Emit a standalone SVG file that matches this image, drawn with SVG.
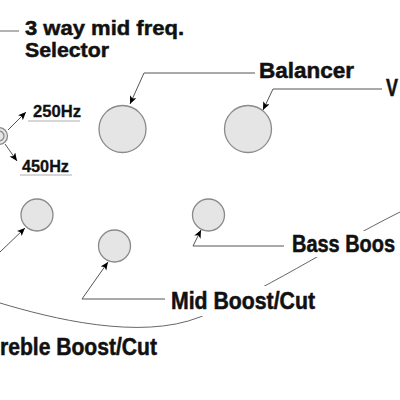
<svg xmlns="http://www.w3.org/2000/svg" width="400" height="400" viewBox="0 0 400 400">
<style>
.knob{fill:#e5e5e5;stroke:#8a8a8a;stroke-width:1.3}
.lbl{font-family:"Liberation Sans",Arial,sans-serif;font-weight:bold;fill:#111}
.big{font-size:23px;stroke:#111;stroke-width:0.5}
.sm{font-size:17px;stroke:#111;stroke-width:0.3}
.ln{fill:none;stroke:#666;stroke-width:1}
.ar{fill:none;stroke:#555;stroke-width:1;marker-end:url(#ah)}
.ul{stroke:#999;stroke-width:0.8}
</style>
<defs>
<marker id="ah" markerUnits="userSpaceOnUse" markerWidth="10" markerHeight="8" refX="8" refY="3.5" orient="auto">
<path d="M0,0 L8,3.5 L0,7 L2,3.5 Z" fill="#000"/>
</marker>
<mask id="gap">
<rect x="0" y="0" width="400" height="400" fill="#fff"/>
<rect x="166" y="286" width="154" height="30" fill="#000"/>
<rect x="287" y="231" width="113" height="26" fill="#000"/>
</mask>
</defs>
<rect width="400" height="400" fill="#fff"/>
<g id="connectors">
<line class="ln" x1="0" y1="31" x2="19" y2="31"/>
<path class="ar" d="M255,73 L144,73 L130,104"/>
<path class="ar" d="M382,89 L273,89 L263,110"/>
<path class="ar" d="M8,130 L26,112"/>
<path class="ar" d="M5,144 L17,161"/>
<path class="ar" d="M0,252 L25,228"/>
<path class="ar" d="M165,299 L82,299 L108,262"/>
<path class="ar" d="M284,246 L193,246 L201,230"/>
<path class="ln" mask="url(#gap)" d="M0,303 C50,318 140,341 200,317 S330,247 400,212"/>
<line class="ul" x1="28" y1="121" x2="80" y2="121"/>
<line class="ul" x1="20" y1="175" x2="72" y2="175"/>
</g>
<g id="selector">
<circle class="knob" cx="-1" cy="136" r="8.5"/>
<circle class="knob" cx="-1" cy="136" r="5"/>
</g>
<g id="balancer-knob"><circle class="knob" cx="122.5" cy="129" r="23.5"/></g>
<g id="volume-knob"><circle class="knob" cx="248" cy="129" r="23.5"/></g>
<g id="treble-knob"><circle class="knob" cx="37" cy="215" r="16"/></g>
<g id="mid-knob"><circle class="knob" cx="114.5" cy="246" r="16"/></g>
<g id="bass-knob"><circle class="knob" cx="208.5" cy="215" r="16"/></g>
<g id="labels">
<text class="lbl big" style="font-size:21px" x="25" y="35" textLength="159" lengthAdjust="spacingAndGlyphs">3 way mid freq.</text>
<text class="lbl big" style="font-size:21px" x="25" y="57" textLength="84" lengthAdjust="spacingAndGlyphs">Selector</text>
<text class="lbl big" style="font-size:22px" x="259" y="78" textLength="95" lengthAdjust="spacingAndGlyphs">Balancer</text>
<text class="lbl big" x="386" y="96" textLength="12" lengthAdjust="spacingAndGlyphs">V</text>
<text class="lbl big" x="292" y="252" textLength="103" lengthAdjust="spacingAndGlyphs">Bass Boos</text>
<text class="lbl sm" x="33" y="117" textLength="48" lengthAdjust="spacingAndGlyphs">250Hz</text>
<text class="lbl sm" x="22" y="172" textLength="47" lengthAdjust="spacingAndGlyphs">450Hz</text>
<text class="lbl big" x="171" y="309" textLength="144" lengthAdjust="spacingAndGlyphs">Mid Boost/Cut</text>
<text class="lbl big" x="0" y="355" textLength="157" lengthAdjust="spacingAndGlyphs">reble Boost/Cut</text>
</g>
</svg>
